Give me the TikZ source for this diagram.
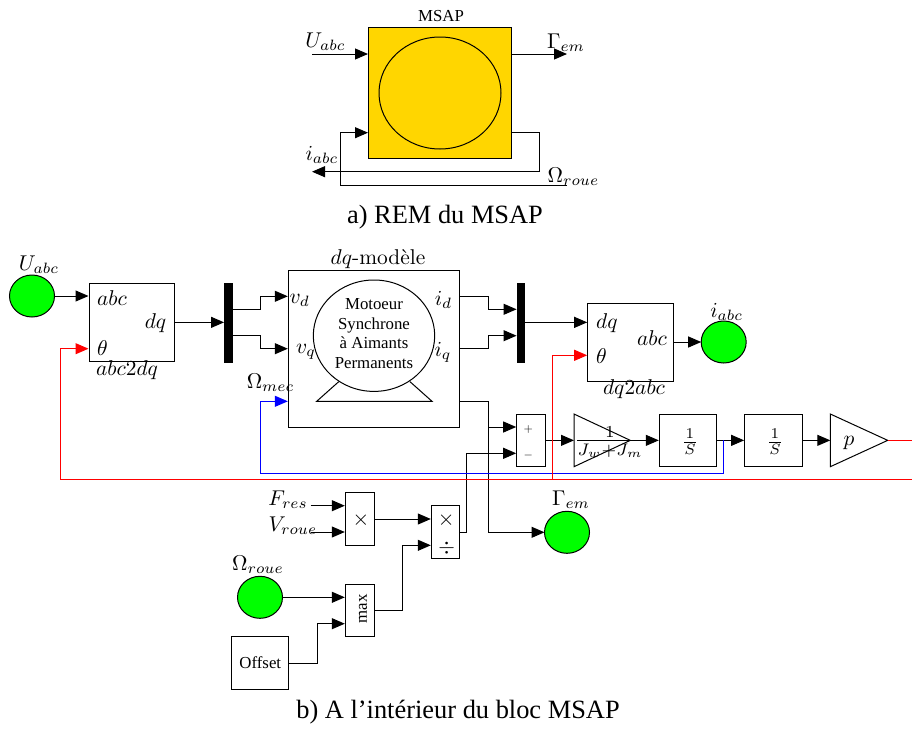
\documentclass[tikz,border=0pt]{standalone}
\usepackage{fontspec}
\newfontfamily\ts{Liberation Serif}
\usetikzlibrary{arrows.meta}
\definecolor{gold}{RGB}{255,214,0}
\definecolor{lime}{RGB}{0,255,0}
\tikzset{
  wire/.style={draw=black,line width=1pt,-{Triangle[length=13pt,width=11pt]}},
  boxn/.style={draw=black,line width=1pt,inner sep=0pt,fill=white},
  mathl/.style={inner sep=0pt,scale=2.14,font=\fontsize{10}{12}\selectfont},
  smalls/.style={inner sep=0pt,scale=1.2,font=\fontsize{10}{12}\selectfont},
  serif/.style={inner sep=0pt,font=\ts\fontsize{16.8}{19.7}\selectfont,align=center},
  caption/.style={inner sep=0pt,font=\ts\fontsize{26.4}{30}\selectfont},
}
\begin{document}
\begin{tikzpicture}[x=1pt,y=-1pt]
\useasboundingbox (0,0) rectangle (912,731);
% --- a) REM
\node[boxn,fill=gold,minimum width=142.5pt,minimum height=131pt] (msap) at (439.75,93) {};
\draw[line width=1pt] (440,93) ellipse [x radius=61,y radius=56];
\node[serif] (msapl) at (441,16) {MSAP};
\coordinate (ua) at (312,54);
\coordinate (ga) at (567,54);
\coordinate (oa) at (567,185.5);
\coordinate (ia) at (312,171.7);
\draw[wire] (ua) -- (msap.west |- ua);
\draw[wire] (msap.east |- ga) -- (ga);
\draw[wire] (oa) -| (340,132.7) -- (msap.west |- 0,132.7);
\draw[wire] (msap.east |- 0,132.7) -- (539.3,132.7) |- (ia);
\node[mathl] (ual) at (325.5,42) {$U_{abc}$};
\node[mathl] (gal) at (566,43) {$\Gamma_{em}$};
\node[mathl] (ial) at (322,155) {$i_{abc}$};
\node[mathl] (oal) at (573.5,177) {$\Omega_{roue}$};
\node[caption] (capa) at (445,217) {a) REM du MSAP};
% --- b) boxes
\draw[line width=1pt,fill=lime] (32,296) ellipse [x radius=22.5,y radius=21];
\coordinate (uc) at (54.5,296);
\node[boxn,minimum width=85.7pt,minimum height=78.7pt] (a2d) at (131.85,322.35) {};
\node[draw=black,fill=black,inner sep=0pt,minimum width=7.5pt,minimum height=79pt] (bar1) at (228,322.35) {};
\node[boxn,minimum width=171.4pt,minimum height=157pt] (model) at (374,348.5) {};
\node[draw=black,fill=black,inner sep=0pt,minimum width=7.5pt,minimum height=79pt] (bar2) at (520.5,322.35) {};
\node[boxn,minimum width=86pt,minimum height=78pt] (d2a) at (630.7,342) {};
\draw[line width=1pt,fill=lime] (723.7,342) ellipse [x radius=22.5,y radius=21];
\coordinate (ic) at (701.2,342);
\node[boxn,minimum width=29pt,minimum height=52.7pt] (sum) at (531.2,440.35) {};
\node[boxn,minimum width=57.4pt,minimum height=52.7pt] (s1) at (688,440.35) {};
\node[boxn,minimum width=57.4pt,minimum height=52.7pt] (s2) at (773.35,440.35) {};
\coordinate (k1w) at (574,440.35);
\coordinate (k1e) at (630.3,440.35);
\coordinate (pw) at (830.3,440.35);
\coordinate (pe) at (887.7,440.35);
\draw[line width=1pt] (574,414) -- (630.3,440.35) -- (574,466.7) -- cycle;
\draw[line width=1pt] (830.3,414) -- (887.7,440.35) -- (830.3,466.7) -- cycle;
\draw[line width=1pt,fill=lime] (567,532.3) ellipse [x radius=22.5,y radius=21];
\coordinate (gc) at (544.5,532.3);
\node[boxn,minimum width=29pt,minimum height=52.6pt] (mul) at (359.8,519) {};
\node[boxn,minimum width=28.4pt,minimum height=52.6pt] (div) at (445.5,532) {};
\node[boxn,minimum width=29pt,minimum height=52.4pt] (max) at (359.8,610.5) {};
\draw[line width=1pt,fill=lime] (260,597.3) ellipse [x radius=22.5,y radius=21];
\coordinate (oc) at (282.5,597.3);
\node[boxn,minimum width=57.3pt,minimum height=52.6pt,serif,draw] (off) at (260.3,663) {Offset};
% motor
\draw[line width=1pt] (338.7,381.7) -- (316.7,401.3) -- (432,401.3) -- (410,381.7);
\draw[line width=1pt,fill=white] (374,335.7) ellipse [x radius=60.7,y radius=55.7];
\node[serif] (mot) at (374,333.5) {Motoeur\\Synchrone\\à Aimants\\Permanents};
% --- wires
\draw[wire] (uc) -- (a2d.west |- uc);
\draw[wire] (a2d.east |- bar1.west) -- (bar1.west);
\draw[wire] (bar1.east |- 0,309.3) -- (260,309.3) |- (model.west |- 0,296.3);
\draw[wire] (bar1.east |- 0,335.7) -- (260,335.7) |- (model.west |- 0,348.7);
\draw[wire] (model.east |- 0,296.3) -- (488.3,296.3) |- (bar2.west |- 0,309.3);
\draw[wire] (model.east |- 0,348.7) -- (488.3,348.7) |- (bar2.west |- 0,335.7);
\draw[wire] (bar2.east) -- (d2a.west |- bar2.east);
\draw[wire] (d2a.east) -- (ic);
\draw[wire] (model.east |- 0,401.3) -- (488.3,401.3) |- (gc);
\draw[wire] (488.3,427) -- (sum.west |- 0,427);
\draw[wire] (div.east) -- (466.7,532) |- (sum.west |- 0,453.3);
\draw[wire] (sum.east) -- (k1w);
\draw[wire] (k1e) -- (s1.west);
\draw[wire] (s1.east) -- (s2.west);
\draw[wire] (s2.east) -- (pw);
\coordinate (fr) at (310.7,505.7);
\coordinate (vr) at (310.7,532);
\draw[wire] (fr) -- (mul.west |- fr);
\draw[wire] (vr) -- (mul.west |- vr);
\draw[wire] (mul.east) -- (div.west |- mul.east);
\draw[wire] (max.east) -- (402.7,610.5) |- (div.west |- 0,545.3);
\draw[wire] (oc) -- (max.west |- oc);
\draw[wire] (off.east) -- (317,663) |- (max.west |- 0,623.7);
\coordinate (rend) at (912,479.7);
\coordinate (rstart) at (912,440.35);
\draw[line width=1pt,draw=blue,-{Triangle[length=13pt,width=11pt,fill=blue]}] (723.7,440.35) |- (260,473) |- (model.west |- 0,401.3);
\draw[line width=1pt,draw=red] (pe) -- (rstart);
\draw[line width=1pt,draw=red,-{Triangle[length=13pt,width=11pt,fill=red]}] (rend) -| (60.3,348.7) -- (a2d.west |- 0,348.7);
\draw[line width=1pt,draw=red,-{Triangle[length=13pt,width=11pt,fill=red]}] (552,479.7) |- (d2a.west |- 0,355.3);
% --- labels
\node[mathl] (l1) at (39,265) {$U_{abc}$};
\node[mathl,anchor=west] (l2) at (96.7,298) {$abc$};
\node[mathl,anchor=east] (l3) at (166.7,323) {$dq$};
\node[mathl,anchor=west] (l4) at (96.7,348) {$\theta$};
\node[mathl] (l5) at (127,370) {$abc2dq$};
\node[mathl] (l6) at (378,259) {$dq$-modèle};
\node[mathl] (l7) at (299.7,300) {$v_d$};
\node[mathl] (l8) at (306,352) {$v_q$};
\node[mathl] (l9) at (443.5,300) {$i_d$};
\node[mathl] (l10) at (443,352) {$i_q$};
\node[mathl] (l11) at (270.5,383) {$\Omega_{mec}$};
\node[mathl,anchor=west] (l12) at (595.7,323) {$dq$};
\node[mathl,anchor=west] (l13) at (595.7,356) {$\theta$};
\node[mathl,anchor=east] (l14) at (667.3,338) {$abc$};
\node[mathl] (l15) at (634,389) {$dq2abc$};
\node[mathl] (l16) at (726.7,312) {$i_{abc}$};
\node[smalls] (l17) at (528.3,429.7) {$+$};
\node[smalls] (l18) at (528.3,455) {$-$};
\node[mathl,scale=1.12] (l19) at (610,442) {$\frac{1}{J_w+J_m}$};
\node[mathl] (l20) at (690,442) {$\frac{1}{S}$};
\node[mathl] (l21) at (775,442) {$\frac{1}{S}$};
\node[mathl] (l22) at (849,443) {$p$};
\node[mathl] (l23) at (571,500) {$\Gamma_{em}$};
\node[mathl] (l24) at (288,500) {$F_{res}$};
\node[mathl] (l25) at (293,526) {$V_{roue}$};
\node[mathl] (l26) at (258,565) {$\Omega_{roue}$};
\node[mathl] (l27) at (361,520) {$\times$};
\node[mathl] (l28) at (446.3,520) {$\times$};
\node[mathl] (l29) at (446.7,548) {$\div$};
\node[serif,rotate=90] (l30) at (363,609) {max};
\node[caption] (capb) at (458,712) {b) A l’intérieur du bloc MSAP};
\end{tikzpicture}
\end{document}
